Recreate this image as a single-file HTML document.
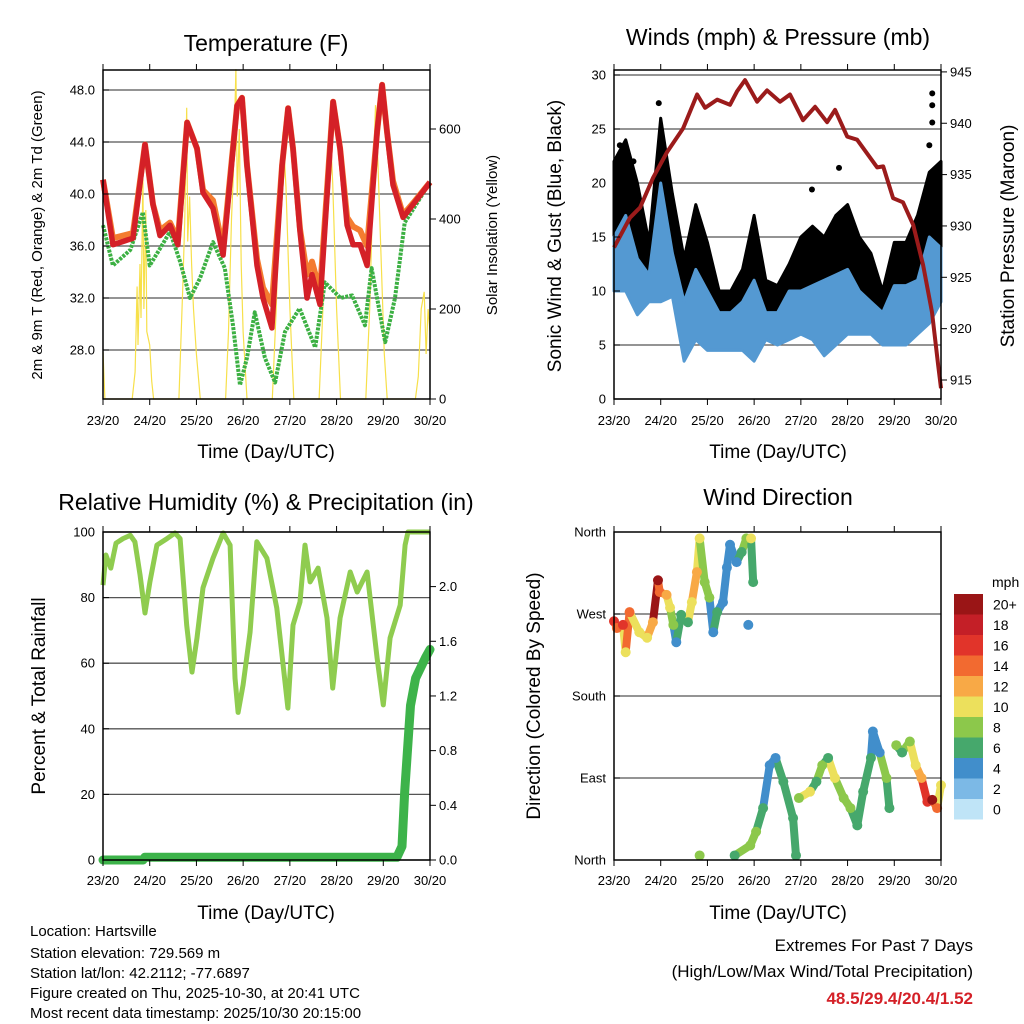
<!DOCTYPE html>
<html><head><meta charset="utf-8">
<style>
html,body{margin:0;padding:0;background:#fff;}
svg{display:block;font-family:"Liberation Sans",sans-serif;}
</style></head>
<body>
<svg id="fig" width="1024" height="1024" viewBox="0 0 1024 1024" xmlns="http://www.w3.org/2000/svg">
<rect x="0" y="0" width="1024" height="1024" fill="#fff"/>
<g id="layer"></g>
<text x="266" y="51" font-size="23" text-anchor="middle">Temperature (F)</text>
<text x="778" y="45" font-size="23" text-anchor="middle">Winds (mph) &amp; Pressure (mb)</text>
<text x="266" y="510" font-size="23" text-anchor="middle">Relative Humidity (%) &amp; Precipitation (in)</text>
<text x="778" y="505" font-size="23" text-anchor="middle">Wind Direction</text>
<text x="266" y="458" font-size="19" text-anchor="middle">Time (Day/UTC)</text>
<text x="778" y="458" font-size="19" text-anchor="middle">Time (Day/UTC)</text>
<text x="266" y="919" font-size="19" text-anchor="middle">Time (Day/UTC)</text>
<text x="778" y="919" font-size="19" text-anchor="middle">Time (Day/UTC)</text>
<text transform="translate(42,235) rotate(-90)" font-size="15" text-anchor="middle">2m &amp; 9m T (Red, Orange) &amp; 2m Td (Green)</text>
<text transform="translate(497,235) rotate(-90)" font-size="15" text-anchor="middle">Solar Insolation (Yellow)</text>
<text transform="translate(561,236) rotate(-90)" font-size="19" text-anchor="middle">Sonic Wind &amp; Gust (Blue, Black)</text>
<text transform="translate(1014,236) rotate(-90)" font-size="19" text-anchor="middle">Station Pressure (Maroon)</text>
<text transform="translate(45,696) rotate(-90)" font-size="19" text-anchor="middle">Percent &amp; Total Rainfall</text>
<text transform="translate(540,696) rotate(-90)" font-size="19" text-anchor="middle">Direction (Colored By Speed)</text>
<g font-size="15">
<text x="30" y="936">Location: Hartsville</text>
<text x="30" y="958">Station elevation: 729.569 m</text>
<text x="30" y="978">Station lat/lon: 42.2112; -77.6897</text>
<text x="30" y="998">Figure created on Thu, 2025-10-30, at 20:41 UTC</text>
<text x="30" y="1018">Most recent data timestamp: 2025/10/30 20:15:00</text>
</g>
<g font-size="17" text-anchor="end">
<text x="973" y="951">Extremes For Past 7 Days</text>
<text x="973" y="977">(High/Low/Max Wind/Total Precipitation)</text>
<text x="973" y="1004" fill="#d42027" font-weight="bold">48.5/29.4/20.4/1.52</text>
</g>
</svg>
<script>
// ---- temperature data ----
const tHours = [0,5.1,15.4,21.6,25.7,29.3,34.4,38.5,43.2,48.3,51.4,56.5,61.7,68.9,71.4,74,79.1,82.2,86.8,92,95.1,97.6,101.2,104.8,107.4,111.5,118.2,121.8,125.4,128.5,132.1,135.7,140.8,143.4,145.9,149,154.2,159.3,168];
const tRed = [41.1,36.1,36.6,43.8,39.2,36.8,37.6,36.1,45.5,43.5,40.1,38.9,35.3,46.8,47.4,42.2,34.5,32,29.7,42.2,46.6,43.5,37.1,32,33.8,31.5,47.1,43.5,37.6,36.1,36.1,34.5,44.8,48.4,44.8,40.7,38.2,39.2,40.9];
const tOrange = [41.1,36.6,37,43.8,39.2,37.2,37.8,36.5,45.5,43.5,40.3,39.5,35.8,46.8,47.4,42.2,35,32.8,31.5,42.2,46.6,43.5,37.3,33.8,34.8,32.5,47.1,43.5,38.2,37.5,37.2,36,44.8,48.4,44.8,41,38.4,39.3,40.9];
const tdHours = [0,5.1,14,20.5,24,29.3,34.4,39.6,44.7,49.8,56.5,62.6,66.8,70.4,74,78,83.2,88.4,93.5,101,109,114,122,128,134.6,138,145,150,155,168];
const tdVals = [37.6,34.5,35.7,38.6,34.5,35.8,37.1,34.8,32,33.5,36.3,34.3,29.9,25.3,27.4,30.9,27.4,25.5,29.4,31.2,28.2,33.2,32,32.2,29.9,34.3,28.6,32,37.8,40.9];
const solarHours = [0,1,15,16.5,17.5,18,19,19.5,20.5,21,22,22.5,24,25,26,39,41,42,43,43.5,44.5,45.5,46.5,48,50,63,64.5,66,67,68.3,69,70,71,72,74,87,89,91,92.5,94,96,98,111,113,115,116.6,118,120,122,135,137,139,140,141,143,144.5,146,160.5,162,163.5,165,166,167,168];
const solarVals = [104,0,0,60,250,120,300,180,491,200,420,150,120,40,0,0,250,400,647,350,450,300,200,100,0,0,150,400,500,733,450,600,300,150,0,0,200,480,593,470,200,0,0,200,500,609,480,200,0,0,200,520,653,560,300,100,0,0,50,200,238,100,200,150];
const tempTicks = [48,44,40,36,32,28];
const tempTickLabels = ["48.0","44.0","40.0","36.0","32.0","28.0"];
const solarTicks = [0,200,400,600];
const dayLabels = ["23/20","24/20","25/20","26/20","27/20","28/20","29/20","30/20"];
// ---- wind data ----
const windHours = [0,6,12,18,24,30,36,42,48,54,60,66,72,78,84,90,96,102,108,114,120,126,132,138,144,150,156,162,168];
const windLo = [10,10,7.8,9,9,9.5,3.5,5.5,4.5,4.5,4.5,4.5,3.5,5.5,5,5.5,6,5.5,4,5,6,6,6,5,5,5,6,7,9];
const windHi = [15,17,13,11.5,20,13.5,9,12,10,8,8,9,11,8,8,10,10,10.5,11,11.5,12,10,9,8,10.5,10.5,11,15,14];
const gustHi = [22,24,20,14.5,26,19,13,18,14.5,10,10,12,17,11,10.5,12.5,15,16,15,17,18,15,13.5,10,14.5,14.5,17,21,22];
const gustOutHours = [23,101.7,115.6,163.5,163.5,163.5,162,3,10];
const gustOutVals = [27.4,19.4,21.4,28.3,27.2,25.6,23.5,23.5,22];
const presHours = [0,8.2,13.4,20.1,27.3,35.5,42.7,46.8,53,59.6,63.2,67.3,73.5,78.6,85.3,90.4,97.1,103.3,109.5,113.6,119.8,124.9,135.2,138.3,143.4,148.5,153.7,158.8,163.4,166.5,168];
const presVals = [927.9,930.8,931.8,934.7,937.2,939.5,942.8,941.5,942.3,941.8,943.1,944.2,942.1,943.2,942.1,942.8,940.3,941.6,940.1,941.3,938.7,938.4,935.7,935.8,932.7,932.3,930.1,926.2,921.6,916.5,914.2];
const windTicks = [0,5,10,15,20,25,30];
const presTicks = [915,920,925,930,935,940,945];
// ---- RH / precip ----
const rhHours = [0,1.5,4,6.7,10.3,14,16.4,19,21.6,24.1,27.7,32.9,37,39.6,43,45.7,48.3,51.4,56.5,61.7,65.3,67.8,69.4,72,75.6,79,84.2,89.3,95,97.6,101.2,103.8,106.4,110.5,115.1,118,121.8,127,130.6,135.7,140.8,144,147.5,152.7,155.2,156.7,168];
const rhVals = [83.8,93,89,96.6,98,99,97,87,75.3,84.8,96,98,99.7,98,71.6,57.3,67.7,83,92,99.7,96,55.5,45,53.4,69.5,97,92,76.8,46.3,71.6,78.7,96,84.8,89,73.8,52.4,73.8,87.8,81.7,87.8,61.6,47.3,67.7,77.7,96,100,100];
const prHours = [0,20.5,21.5,151,153.6,155,158,160.6,165.7,168];
const prVals = [0,0,0.02,0.02,0.1,0.5,1.13,1.33,1.48,1.54];
const rhTicks = [0,20,40,60,80,100];
const prTicks = [0,0.4,0.8,1.2,1.6,2.0];
const prTickLabels = ["0.0","0.4","0.8","1.2","1.6","2.0"];
// ---- wind direction ----
const dirAHours = [0,1.5,4.6,6,8,13,17,20,22.6,23.5,27,28.8,30.5,32,34.5,38,40,42.6,44,46.6,49,51,53,56,58,59.6,63,65.6,68,69,70.4,71.5];
const dirAVals = [262,254.6,258,228,272,250,244,261,307,294,291,277,258,239,269,261,283,316,353,305,288,250,272,283,321,346,327,338,353,258,353,305];
const dirASpeed = [16,14,16,9,14,10,10,12,20,14,12,10,7,4,6,6,9,12,10,8,8,4,6,4,4,4,4,6,8,4,10,6];
const dirBHours = [44,62,70,73,76.6,80,83,87,92,93.5,95,100.7,104,107,110,113.5,118,121.5,125,128,132,133,136.5,140,141.5,145,148,152,155,158,161,163.5,166,168];
const dirBVals = [5,5,16,31,57,104,112,86,46,5,68,75,86,104,112,90,68,57,38,75,112,141,118,90,57,126,118,130,104,90,64,66,57,82];
const dirBSpeed = [8,6,8,8,6,4,4,6,6,6,8,10,6,8,6,10,8,8,6,6,6,4,4,8,6,8,6,8,10,12,16,20,14,10];
const dirLabels = ["North","West","South","East","North"];
const dirTicks = [360,270,180,90,0];
const speedBins = ["0","2","4","6","8","10","12","14","16","18","20+"];
const speedColors = ["#bfe4f7","#7cb9e6","#418ecb","#46a86c","#8cc84b","#ece05c","#f8a946","#f26a30","#e1342a","#c41f27","#9a1516"];

// ---- scales ----
const PX = 327/168;
function xL(h){return 103 + h*PX;}
function xR(h){return 614 + h*PX;}
function yTemp(t){return 90 + (48-t)*13;}
function ySolar(s){return 399 - s*0.45;}
function yWind(w){return 399 - w*10.8;}
function yPres(p){return 380 - (p-915)*10.27;}
function yRH(r){return 860 - r*3.28;}
function yPr(p){return 860 - p*136.7;}
function yDir(d){return 860 - d*328/360;}
function colorFor(s){let i=Math.min(10,Math.max(0,Math.round(s/2)));return speedColors[i];}

const NS="http://www.w3.org/2000/svg";
const layer=document.getElementById('layer');
function el(tag,attrs,parent){const e=document.createElementNS(NS,tag);for(const k in attrs)e.setAttribute(k,attrs[k]);(parent||layer).appendChild(e);return e;}
function pts(hs,vs,fx,fy){return hs.map((h,i)=>fx(h).toFixed(1)+','+fy(vs[i]).toFixed(1)).join(' ');}

function frame(name){
  const g=el('g',{});
  
  
  return g;
}
function grid(g,x0,x1,ys){ys.forEach(y=>{const l=el('line',{x1:x0,x2:x1,y1:y,y2:y,stroke:'#555','stroke-width':1.3},g);});}
function box(g,x0,y0,x1,y1){const r=el('rect',{x:x0,y:y0,width:x1-x0,height:y1-y0,fill:'none',stroke:'#000','stroke-width':1.5},g);}
function xticks(g,fx,y0,y1,labY){
  dayLabels.forEach((lab,i)=>{const x=fx(i*24);
    el('line',{x1:x,x2:x,y1:y1,y2:y1-6,stroke:'#000','stroke-width':1},g);
    el('line',{x1:x,x2:x,y1:y0,y2:y0+6,stroke:'#000','stroke-width':1},g);
    const t=el('text',{x:x,y:labY,'font-size':13,'text-anchor':'middle'},g);t.textContent=lab;
    
    
  });
}
function yticksL(g,x0,ys,labels){ys.forEach((y,i)=>{el('line',{x1:x0,x2:x0+6,y1:y,y2:y,stroke:'#000'},g);const t=el('text',{x:x0-8,y:y+4.5,'font-size':13,'text-anchor':'end'},g);t.textContent=labels[i];});}
function yticksR(g,x1,ys,labels){ys.forEach((y,i)=>{el('line',{x1:x1,x2:x1+6,y1:y,y2:y,stroke:'#000'},g);const t=el('text',{x:x1+9,y:y+4.5,'font-size':13,'text-anchor':'start'},g);t.textContent=labels[i];});}

// ===== Panel 1 Temperature =====
(function(){
  const g=frame('temperature-panel');
  grid(g,103,430,tempTicks.map(yTemp));
  const sol=el('polyline',{points:pts(solarHours,solarVals,xL,ySolar),fill:'none',stroke:'#f7e04a','stroke-width':1.2},g);
  
  
  const td=el('polyline',{points:pts(tdHours,tdVals,xL,yTemp),fill:'none',stroke:'#3cb043','stroke-width':4,'stroke-dasharray':'3 1.2','stroke-linejoin':'round'},g);
  
  
  const or=el('polyline',{points:pts(tHours,tOrange,xL,yTemp),fill:'none',stroke:'#f47c30','stroke-width':6,'stroke-linejoin':'round'},g);
  
  
  const rd=el('polyline',{points:pts(tHours,tRed,xL,yTemp),fill:'none',stroke:'#d42027','stroke-width':5.5,'stroke-linejoin':'round'},g);
  
  
  box(g,103,70,430,399);
  xticks(g,xL,399,70,425);
  yticksL(g,103,tempTicks.map(yTemp),tempTickLabels);
  yticksR(g,430,solarTicks.map(ySolar),solarTicks.map(String));
})();

// ===== Panel 2 Winds =====
(function(){
  const g=frame('wind-panel');
  grid(g,614,941,windTicks.map(yWind));
  const up=windHours.map((h,i)=>xR(h).toFixed(1)+','+yWind(gustHi[i]).toFixed(1));
  const dn=windHours.map((h,i)=>xR(h).toFixed(1)+','+yWind((windLo[i]+windHi[i])/2).toFixed(1)).reverse();
  const ga=el('polygon',{points:up.concat(dn).join(' '),fill:'#000',stroke:'#000','stroke-width':3,'stroke-linejoin':'round'},g);
  
  
  gustOutHours.forEach((h,i)=>{const c=el('circle',{cx:xR(h),cy:yWind(gustOutVals[i]),r:3,fill:'#000'},g);
    
    });
  const bu=windHours.map((h,i)=>xR(h).toFixed(1)+','+yWind(windHi[i]).toFixed(1));
  const bd=windHours.map((h,i)=>xR(h).toFixed(1)+','+yWind(windLo[i]).toFixed(1)).reverse();
  const ba=el('polygon',{points:bu.concat(bd).join(' '),fill:'#5499d2',stroke:'#5499d2','stroke-width':3,'stroke-linejoin':'round'},g);
  
  
  const pl=el('polyline',{points:pts(presHours,presVals,xR,yPres),fill:'none',stroke:'#9b1b1b','stroke-width':4,'stroke-linejoin':'round'},g);
  
  
  box(g,614,70,941,399);
  xticks(g,xR,399,70,425);
  yticksL(g,614,windTicks.map(yWind),windTicks.map(String));
  yticksR(g,941,presTicks.map(yPres),presTicks.map(String));
})();

// ===== Panel 3 RH & Precip =====
(function(){
  const g=frame('rh-panel');
  grid(g,103,430,rhTicks.map(yRH));
  const rh=el('polyline',{points:pts(rhHours,rhVals,xL,yRH),fill:'none',stroke:'#8fcc4f','stroke-width':5,'stroke-linejoin':'round'},g);
  
  
  const pr=el('polyline',{points:pts(prHours,prVals,xL,yPr),fill:'none',stroke:'#3db34a','stroke-width':9,'stroke-linejoin':'round','stroke-linecap':'round'},g);
  
  
  box(g,103,532,430,860);
  xticks(g,xL,860,532,885);
  yticksL(g,103,rhTicks.map(yRH),rhTicks.map(String));
  yticksR(g,430,prTicks.map(yPr),prTickLabels);
})();

// ===== Panel 4 Wind Direction =====
(function(){
  const g=frame('direction-panel');
  grid(g,614,941,[270,180,90].map(yDir));
  function series(hs,ds,ss,nm){
    for(let i=1;i<hs.length;i++){
      if(Math.abs(ds[i]-ds[i-1])>60 || hs[i]-hs[i-1]>8) continue;
      const s=el('line',{x1:xR(hs[i-1]),y1:yDir(ds[i-1]),x2:xR(hs[i]),y2:yDir(ds[i]),stroke:colorFor(ss[i]),'stroke-width':8,'stroke-linecap':'round'},g);
      
      
    }
    hs.forEach((h,i)=>{const c=el('circle',{cx:xR(h),cy:yDir(ds[i]),r:5,fill:colorFor(ss[i])},g);
      
      });
  }
  series(dirAHours,dirAVals,dirASpeed,'direction-west');
  series(dirBHours,dirBVals,dirBSpeed,'direction-east');
  box(g,614,532,941,860);
  xticks(g,xR,860,532,885);
  yticksL(g,614,dirTicks.map(yDir),dirLabels);
  const cb=el('g',{},g);
  
  
  const top=594,bh=20.5;
  speedBins.forEach((lab,i)=>{
    const y=top+(10-i)*bh;
    const r=el('rect',{x:954,y:y,width:29,height:bh,fill:speedColors[i]},cb);
    
    
    const t=el('text',{x:993,y:y+bh/2+5,'font-size':14},cb);t.textContent=lab;
    
    
  });
  const u=el('text',{x:992,y:587,'font-size':14},cb);u.textContent='mph';
  
  
})();
</script>
</body></html>
